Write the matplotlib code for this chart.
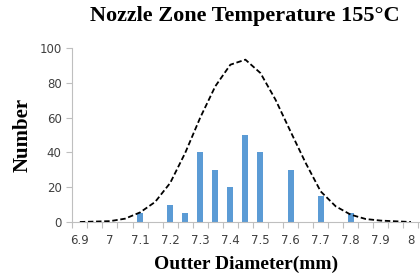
import matplotlib
matplotlib.use("Agg")
import matplotlib.pyplot as plt
import numpy as np

# bar data (outer diameter, count)
bar_x = [7.1, 7.2, 7.25, 7.3, 7.35, 7.4, 7.45, 7.5, 7.6, 7.7, 7.8]
bar_y = [5, 10, 5, 40, 30, 20, 50, 40, 30, 15, 5]

# dashed fitted curve
curve_x = [6.9, 7.0, 7.05, 7.1, 7.15, 7.2, 7.25, 7.3, 7.35, 7.4, 7.45,
           7.5, 7.55, 7.6, 7.65, 7.7, 7.75, 7.8, 7.85, 7.9, 8.0]
curve_y = [0, 0.5, 1.9, 5.5, 11.5, 22.4, 39.7, 60, 78, 90.4, 93.3,
           85.6, 70.3, 52, 34, 17.6, 9, 4.2, 1.7, 0.8, 0]

x_ticks = [6.9, 7.0, 7.1, 7.2, 7.3, 7.4, 7.5, 7.6, 7.7, 7.8, 7.9, 8.0]
x_labels = ["6.9", "7", "7.1", "7.2", "7.3", "7.4", "7.5", "7.6", "7.7", "7.8", "7.9", "8"]
y_ticks = [0, 20, 40, 60, 80, 100]

fig = plt.figure(figsize=(4.2, 2.78), dpi=100)
ax = fig.add_axes([72 / 420, 56 / 278, 348 / 420, 174 / 278])

ax.bar(bar_x, bar_y, width=0.02, color="#5b9bd5", zorder=2)
ax.plot(curve_x, curve_y, color="black", linestyle=(0, (3, 1.5)), linewidth=1.3, zorder=3)

ax.set_xlim(6.874, 8.03)
ax.set_ylim(0, 100)
ax.set_xticks(x_ticks)
ax.set_xticklabels(x_labels)
ax.set_xticks(np.arange(6.875, 8.03, 0.05), minor=True)
ax.set_yticks(y_ticks)

for s in ["top", "right"]:
    ax.spines[s].set_visible(False)
for s in ["left", "bottom"]:
    ax.spines[s].set_color("#bfbfbf")
    ax.spines[s].set_linewidth(0.8)

ax.tick_params(axis="both", which="both", colors="#bfbfbf", labelcolor="#404040",
               labelsize=8.5, length=4, width=0.8)
ax.tick_params(axis="x", which="major", length=0, pad=9)

bold_serif = dict(family="Liberation Serif", weight="bold")
fig.text(245 / 420, 1 - 16 / 278, "Nozzle Zone Temperature 155°C",
         ha="center", va="center", fontsize=16, **bold_serif)
ax.set_xlabel("Outter Diameter(mm)", fontsize=14, labelpad=6, **bold_serif)
ax.set_ylabel("Number", fontsize=15, labelpad=5, **bold_serif)

fig.savefig("out.png", dpi=100)
